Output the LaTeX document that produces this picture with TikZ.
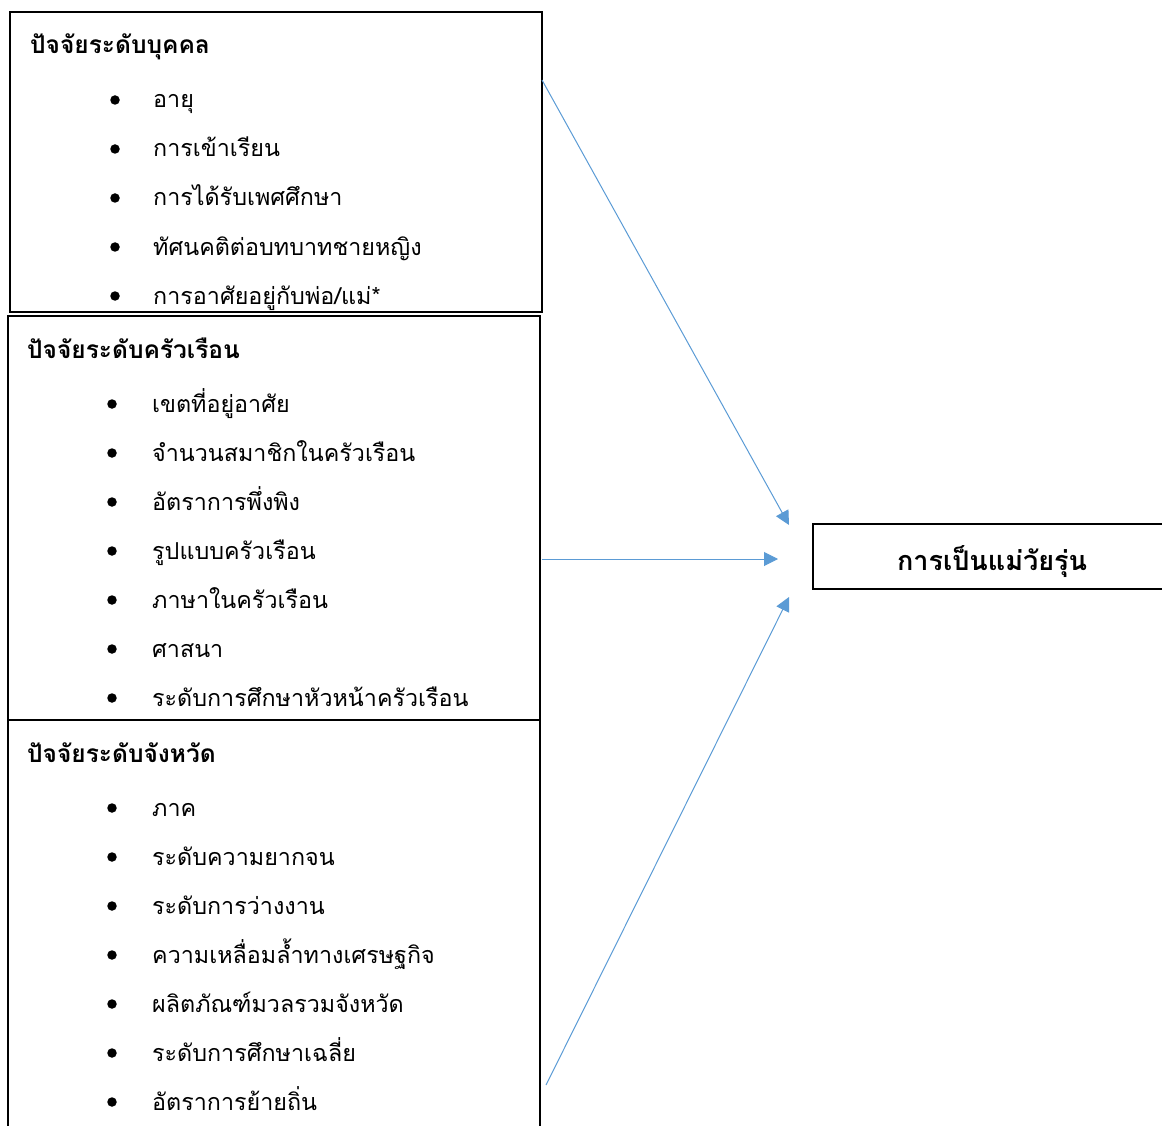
\documentclass[tikz,border=0pt]{standalone}
\usepackage{fontspec}
\newfontfamily\thaifont[Script=Thai]{Loma}
\usetikzlibrary{arrows.meta}
\definecolor{arrowblue}{RGB}{91,155,213}
\tikzset{
  framebox/.style={draw=black, line width=2pt, anchor=north west, inner sep=0pt, outer sep=0pt},
  title/.style={anchor=base west, inner sep=0pt, font=\thaifont\bfseries\fontsize{24.5}{28}\selectfont},
  item/.style={anchor=base west, inner sep=0pt, font=\thaifont\fontsize{23.3}{27}\selectfont},
  dot/.style={circle, fill=black, inner sep=0pt, minimum size=9.5pt},
  link/.style={draw=arrowblue, line width=1pt, -{Triangle[length=14pt,width=14pt]}},
}
\begin{document}
\begin{tikzpicture}[x=1pt,y=-1pt]
\useasboundingbox (0,0) rectangle (1162,1126);
\begin{scope}
\clip (0,0) rectangle (1162,1126);
% boxes
\node[framebox, minimum width=532pt, minimum height=300pt] (b1) at (10,12) {};
\node[framebox, minimum width=532pt, minimum height=404pt] (b2) at (8,316) {};
\node[framebox, minimum width=532pt, minimum height=420pt] (b3) at (8,720) {};
\node[draw=black, line width=1.5pt, anchor=north west, inner sep=0pt, minimum width=360pt, minimum height=65pt] (out) at (812,523) {};
\end{scope}
\node[anchor=base, inner sep=0pt, font=\thaifont\bfseries\fontsize{27}{31}\selectfont] (outtext) at (992,570) {การเป็นแม่วัยรุ่น};
% box 1
\node[title] (t1) at (30,54) {ปัจจัยระดับบุคคล};
\foreach \txt [count=\i from 0] in {อายุ,การเข้าเรียน,การได้รับเพศศึกษา,ทัศนคติต่อบทบาทชายหญิง,การอาศัยอยู่กับพ่อ/แม่*}{
  \node[dot] (d1-\i) at (115,{100+49*\i}) {};
  \node[item] (i1-\i) at (153,{108+49*\i}) {\txt};
}
% box 2
\node[title] (t2) at (27,358) {ปัจจัยระดับครัวเรือน};
\foreach \txt [count=\i from 0] in {เขตที่อยู่อาศัย,จำนวนสมาชิกในครัวเรือน,อัตราการพึ่งพิง,รูปแบบครัวเรือน,ภาษาในครัวเรือน,ศาสนา,ระดับการศึกษาหัวหน้าครัวเรือน}{
  \node[dot] (d2-\i) at (112,{404+49*\i}) {};
  \node[item] (i2-\i) at (152,{412+49*\i}) {\txt};
}
% box 3
\node[title] (t3) at (27,762) {ปัจจัยระดับจังหวัด};
\foreach \txt [count=\i from 0] in {ภาค,ระดับความยากจน,ระดับการว่างงาน,ความเหลื่อมล้ำทางเศรษฐกิจ,ผลิตภัณฑ์มวลรวมจังหวัด,ระดับการศึกษาเฉลี่ย,อัตราการย้ายถิ่น}{
  \node[dot] (d3-\i) at (112,{808+49*\i}) {};
  \node[item] (i3-\i) at (152,{816+49*\i}) {\txt};
}
% connector ends
\coordinate (s1) at (542,80);
\coordinate (e1) at (789,525);
\coordinate (s2) at (542,559);
\coordinate (e2) at (778,559);
\coordinate (s3) at (546,1085);
\coordinate (e3) at (789,597);
\draw[link] (s1) -- (e1);
\draw[link] (s2) -- (e2);
\draw[link] (s3) -- (e3);
\end{tikzpicture}
\end{document}
